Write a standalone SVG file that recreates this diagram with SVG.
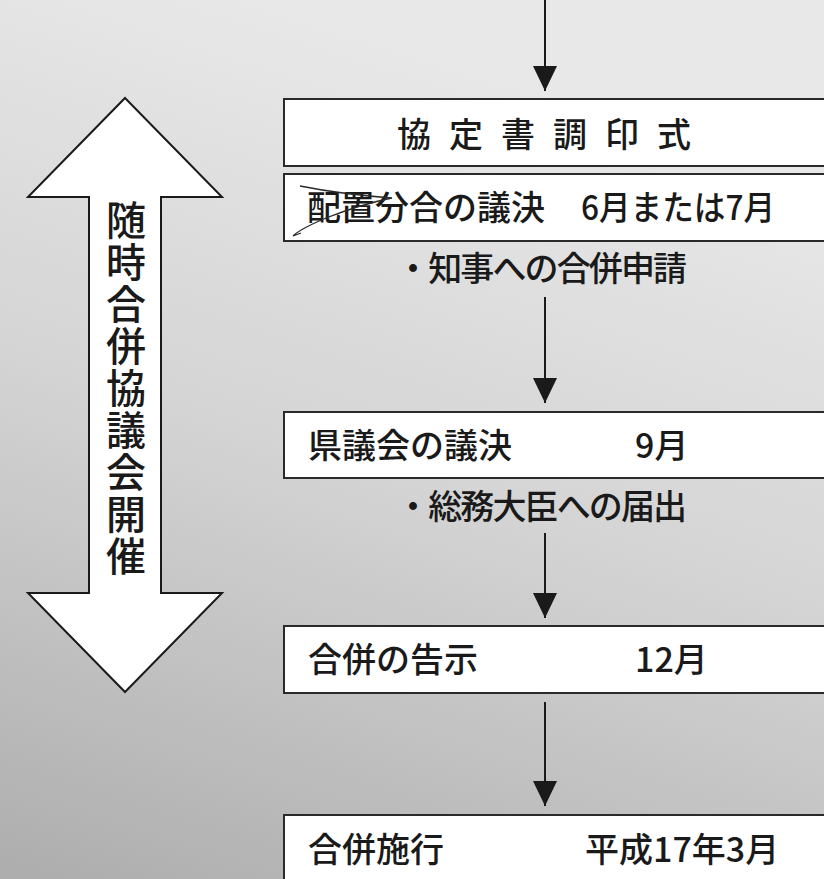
<svg xmlns="http://www.w3.org/2000/svg" width="824" height="879" viewBox="0 0 824 879">
<defs>
<linearGradient id="bg" x1="0.3" y1="0" x2="0" y2="1">
<stop offset="0" stop-color="#e8e8e8"/>
<stop offset="0.45" stop-color="#d4d4d4"/>
<stop offset="1" stop-color="#adadad"/>
</linearGradient>
<marker id="ah" markerUnits="userSpaceOnUse" markerWidth="26" markerHeight="24" refX="25" refY="12" orient="auto">
<path d="M0,0 L25,12 L0,24 Z" fill="#1a1a1a"/>
</marker>
<style>
.box{fill:#ffffff;stroke:#2a2a2a;stroke-width:2}
.t{font-family:"Noto Sans CJK JP","Noto Sans",sans-serif;fill:#1a1a1a;font-weight:500}
.m{font-size:34px}
.conn{stroke:#1a1a1a;stroke-width:2;fill:none;marker-end:url(#ah)}
</style>
</defs>
<rect x="0" y="0" width="824" height="879" fill="url(#bg)"/>

<g id="side-arrow">
<path d="M125,98 L222,197 L161,197 L161,593 L222,593 L125,692 L28,593 L89,593 L89,197 L28,197 Z" fill="#ffffff" stroke="#1a1a1a" stroke-width="2" stroke-linejoin="miter"/>
<text class="t" x="126" y="200" font-size="40" letter-spacing="2" writing-mode="vertical-rl" style="writing-mode:vertical-rl">随時合併協議会開催</text>
</g>

<g id="connectors">
<line class="conn" x1="545" y1="0" x2="545" y2="91"/>
<line class="conn" x1="545" y1="297" x2="545" y2="403"/>
<line class="conn" x1="545" y1="533" x2="545" y2="618"/>
<line class="conn" x1="545" y1="702" x2="545" y2="806"/>
</g>

<g id="node-chouin">
<rect class="box" x="284" y="99" width="560" height="67"/>
<text class="t" x="397" y="147" font-size="34" letter-spacing="18">協定書調印式</text>
</g>

<g id="node-haichi">
<rect class="box" x="284" y="174" width="560" height="67"/>
<text class="t m" x="307" y="220">配置分合の議決</text>
<text class="t m" x="581" y="220" textLength="194" lengthAdjust="spacingAndGlyphs">6月または7月</text>
<path d="M300,186 Q 340,194 392,198 Q 362,204 326,218 Q 300,229 293,236 L 301,233" fill="none" stroke="#2a2a2a" stroke-width="1.3"/>
</g>
<g id="note-chiji">
<text class="t m" x="396" y="281" textLength="291" lengthAdjust="spacing">・知事への合併申請</text>
</g>

<g id="node-kengikai">
<rect class="box" x="284" y="412" width="560" height="66"/>
<text class="t m" x="308" y="458">県議会の議決</text>
<text class="t m" x="635" y="458">9月</text>
</g>
<g id="note-soumu">
<text class="t m" x="396" y="519" textLength="291" lengthAdjust="spacing">・総務大臣への届出</text>
</g>

<g id="node-kokuji">
<rect class="box" x="284" y="626" width="560" height="67"/>
<text class="t m" x="308" y="672">合併の告示</text>
<text class="t m" x="635" y="672">12月</text>
</g>

<g id="node-shikou">
<rect class="box" x="284" y="815" width="560" height="90"/>
<text class="t m" x="308" y="862">合併施行</text>
<text class="t m" x="585" y="862">平成17年3月</text>
</g>
</svg>
